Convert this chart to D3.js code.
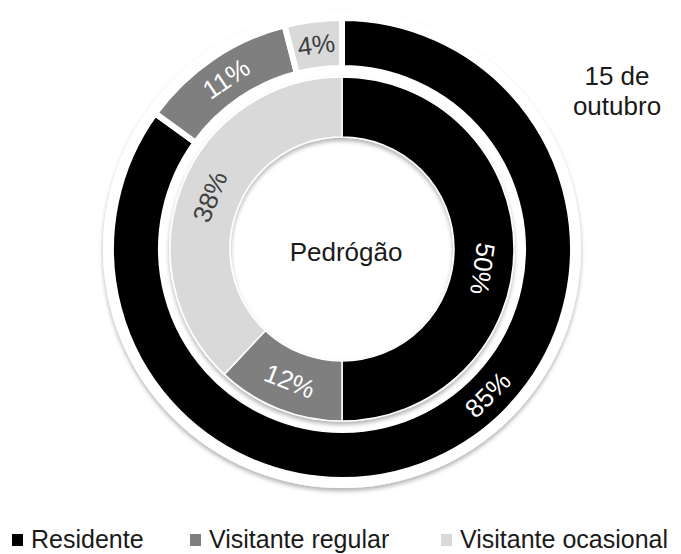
<!DOCTYPE html>
<html>
<head>
<meta charset="utf-8">
<script src="https://cdn.jsdelivr.net/npm/d3@7"></script>
<style>
  html, body { margin: 0; padding: 0; background: #fff; }
  svg { display: block; font-family: "Liberation Sans", Arial, sans-serif; }
</style>
</head>
<body>
<svg id="chart" width="681" height="554"></svg>
<script>
// Visitor profile: outer ring = 15 de outubro, inner ring = Pedrógão
const categories = ["Residente", "Visitante regular", "Visitante ocasional"];
const outerValues = [85, 11, 4];
const innerValues = [50, 12, 38];
const outerTitle = ["15 de", "outubro"];
const innerTitle = "Pedrógão";

const cx = 342, cy = 249;
const ring = {
  outer: { key: "outer", r0: 181, r1: 231, stroke: 6 },
  inner: { key: "inner", r0: 112, r1: 172, stroke: 1.5 }
};
// labels of the large black slices sit off their slice midpoint (degrees)
const labelShift = { "outer:Residente": -18, "inner:Residente": 8 };

const color = d3.scaleOrdinal()
  .domain(categories)
  .range(["#000000", "#7f7f7f", "#d9d9d9"]);
const labelColor = d3.scaleOrdinal()
  .domain(categories)
  .range(["#ffffff", "#ffffff", "#404040"]);

const svg = d3.select("#chart");

// soft drop shadow used by both rings
const defs = svg.append("defs");
const f = defs.append("filter").attr("id", "shadow")
  .attr("x", "-20%").attr("y", "-20%").attr("width", "140%").attr("height", "140%");
f.append("feDropShadow")
  .attr("dx", 0).attr("dy", 3).attr("stdDeviation", 2.2)
  .attr("flood-color", "#000").attr("flood-opacity", 0.3);

const g = svg.append("g").attr("transform", `translate(${cx},${cy})`);

const pie = d3.pie().sort(null).value(d => d.value);

function drawRing(values, cfg, withBacking) {
  const data = pie(categories.map((c, i) => ({ category: c, value: values[i] })));
  const arc = d3.arc().innerRadius(cfg.r0).outerRadius(cfg.r1);
  const grp = g.append("g");
  if (withBacking) {
    // white border disc that carries the outer shadow
    grp.append("circle").attr("r", cfg.r1 + 8).attr("fill", "#fff")
      .attr("filter", "url(#shadow)");
    grp.append("circle").attr("r", cfg.r0 - 3).attr("fill", "#fff");
  }
  const slices = grp.append("g").attr("filter", withBacking ? null : "url(#shadow)");
  slices.selectAll("path")
    .data(data)
    .join("path")
    .attr("d", arc)
    .attr("fill", d => color(d.data.category))
    .attr("stroke", "#fff")
    .attr("stroke-width", cfg.stroke)
    .attr("stroke-linejoin", "miter");

  const mid = (cfg.r0 + cfg.r1) / 2;
  grp.selectAll("text")
    .data(data)
    .join("text")
    .attr("transform", d => {
      const shift = (labelShift[cfg.key + ":" + d.data.category] || 0) * Math.PI / 180;
      const a = (d.startAngle + d.endAngle) / 2 + shift;
      const x = Math.sin(a) * mid, y = -Math.cos(a) * mid;
      let rot = a * 180 / Math.PI;
      while (rot > 100) rot -= 180;
      return `translate(${x},${y}) rotate(${rot})`;
    })
    .attr("text-anchor", "middle")
    .attr("dy", "0.35em")
    .attr("font-size", 26)
    .attr("fill", d => labelColor(d.data.category))
    .text(d => d.data.value + "%");
}

drawRing(outerValues, ring.outer, true);
drawRing(innerValues, ring.inner, false);

// centre title
g.append("text")
  .attr("text-anchor", "middle")
  .attr("x", 4)
  .attr("y", 3)
  .attr("dy", "0.35em")
  .attr("font-size", 26)
  .attr("fill", "#1a1a1a")
  .text(innerTitle);

// outer ring title
svg.append("text")
  .attr("x", 617).attr("y", 85)
  .attr("text-anchor", "middle")
  .attr("font-size", 26)
  .attr("fill", "#1a1a1a")
  .selectAll("tspan")
  .data(outerTitle)
  .join("tspan")
  .attr("x", 617)
  .attr("dy", (d, i) => i === 0 ? 0 : 30)
  .text(d => d);

// legend: swatch + label per category along the bottom
const legendStarts = [12, 190, 441];
const legend = svg.append("g").attr("transform", "translate(0,548)");
categories.forEach((c, i) => {
  const item = legend.append("g").attr("transform", `translate(${legendStarts[i]},0)`);
  item.append("rect")
    .attr("x", 0).attr("y", -14).attr("width", 11).attr("height", 12)
    .attr("fill", color(c));
  item.append("text")
    .attr("x", 19).attr("y", 0)
    .attr("font-size", 25)
    .attr("fill", "#1a1a1a")
    .text(c);
});
</script>
</body>
</html>
